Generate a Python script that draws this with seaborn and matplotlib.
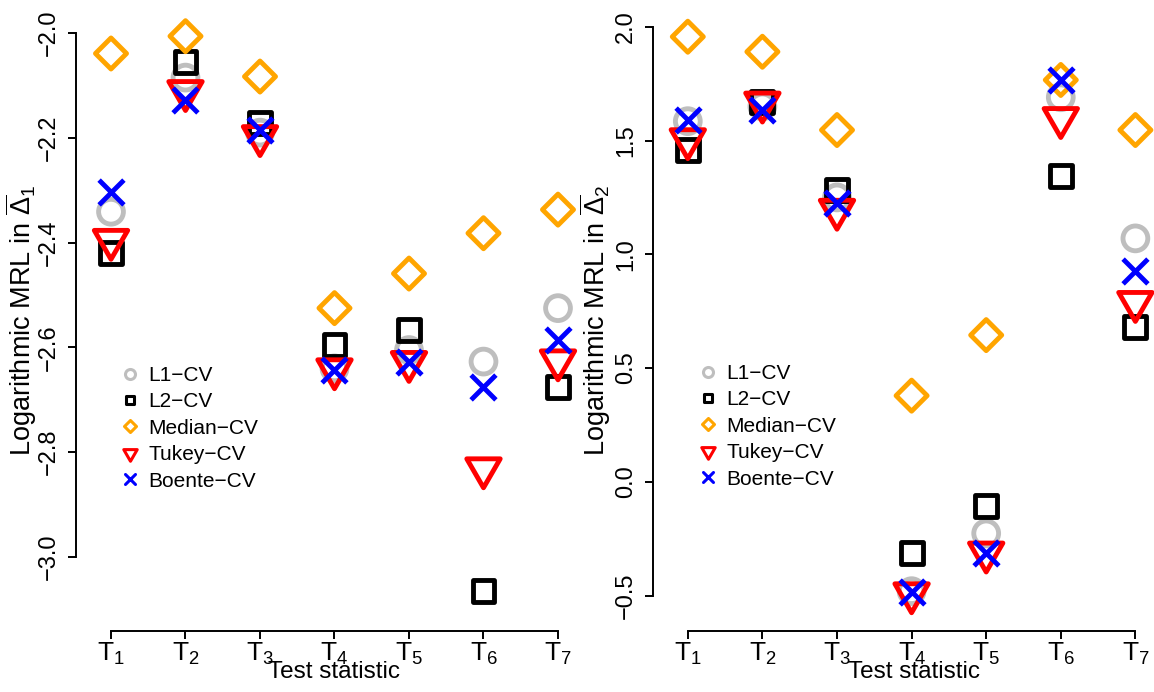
import numpy as np
import pandas as pd
import matplotlib
matplotlib.use("Agg")
import matplotlib.pyplot as plt
import seaborn as sns
from matplotlib.markers import MarkerStyle
from matplotlib.path import Path
from matplotlib.lines import Line2D

# ---------------- data ----------------
tests = ["T1", "T2", "T3", "T4", "T5", "T6", "T7"]
tick_labels = [r"$\mathregular{T_1}$", r"$\mathregular{T_2}$", r"$\mathregular{T_3}$",
               r"$\mathregular{T_4}$", r"$\mathregular{T_5}$", r"$\mathregular{T_6}$",
               r"$\mathregular{T_7}$"]
methods = ["L1\u2212CV", "L2\u2212CV", "Median\u2212CV", "Tukey\u2212CV", "Boente\u2212CV"]
colors = ["#BEBEBE", "#000000", "#FFA500", "#FF0000", "#0000FF"]

# panel 1: Logarithmic MRL in Delta_1
d1_L1 = [-2.341, -2.085, -2.190, -2.640, -2.605, -2.627, -2.525]
d1_L2 = [-2.420, -2.055, -2.172, -2.595, -2.567, -3.065, -2.675]
d1_Median = [-2.039, -2.006, -2.083, -2.525, -2.459, -2.382, -2.337]
d1_Tukey = [-2.395, -2.111, -2.197, -2.642, -2.628, -2.831, -2.625]
d1_Boente = [-2.303, -2.128, -2.185, -2.643, -2.627, -2.675, -2.586]
d1_yticks = [-3.0, -2.8, -2.6, -2.4, -2.2, -2.0]

# panel 2: Logarithmic MRL in Delta_2
d2_L1 = [1.585, 1.650, 1.250, -0.480, -0.226, 1.690, 1.070]
d2_L2 = [1.458, 1.670, 1.283, -0.311, -0.106, 1.344, 0.682]
d2_Median = [1.956, 1.890, 1.546, 0.379, 0.645, 1.766, 1.546]
d2_Tukey = [1.505, 1.666, 1.195, -0.490, -0.311, 1.598, 0.790]
d2_Boente = [1.590, 1.634, 1.225, -0.485, -0.314, 1.766, 0.928]
d2_yticks = [-0.5, 0.0, 0.5, 1.0, 1.5, 2.0]

# ---------------- style ----------------
sns.set_style("ticks")
plt.rcParams["font.family"] = ["Liberation Sans", "DejaVu Sans"]
plt.rcParams["mathtext.fontset"] = "custom"
plt.rcParams["mathtext.rm"] = "Liberation Sans"
plt.rcParams["mathtext.it"] = "Liberation Sans:italic"
plt.rcParams["mathtext.bf"] = "Liberation Sans:bold"
plt.rcParams["mathtext.default"] = "regular"
for key in ("text.color", "axes.labelcolor", "xtick.color", "ytick.color",
            "xtick.labelcolor", "ytick.labelcolor", "axes.edgecolor"):
    plt.rcParams[key] = "black"

# R-like symbols (pch 1, 0, 5, 6, 4)
tri_path = Path([(0, -1.5551), (1.3468, 0.7776), (-1.3468, 0.7776), (0, -1.5551)],
                [Path.MOVETO, Path.LINETO, Path.LINETO, Path.CLOSEPOLY])
markers = [MarkerStyle("o", joinstyle="round"),
           MarkerStyle("s", joinstyle="round"),
           MarkerStyle("D", joinstyle="round"),
           MarkerStyle(tri_path, joinstyle="round"),
           MarkerStyle("x", capstyle="round")]
r_pt = 8.93  # symbol radius in points
msizes = [2 * r_pt, 2 * 0.886 * r_pt, 2 * 1.2533 * r_pt / np.sqrt(2), 3.11 * r_pt, 2 * r_pt]
lw = 3.5
r_leg = 3.6
leg_sizes = [2 * r_leg, 2 * 0.886 * r_leg, 2 * 1.2533 * r_leg / np.sqrt(2), 3.11 * r_leg, 2 * r_leg]

W, H = 1154, 692
fig = plt.figure(figsize=(W / 100, H / 100), dpi=100)


def axes_px(l, r, t, b):
    return fig.add_axes([l / W, 1 - b / H, (r - l) / W, (b - t) / H])


def draw_panel(ax, series, yticks, ylim, xlim, ylabel, ylab_x, leg_anchor):
    pos = np.arange(1, len(tests) + 1)
    frames = []
    for m, vals in zip(methods, series):
        frames.append(pd.DataFrame({"pos": pos, "test": tests, "value": vals, "method": m}))
    df = pd.concat(frames, ignore_index=True)
    for k, (m, c, mk, ms) in enumerate(zip(methods, colors, markers, msizes)):
        sub = df[df["method"] == m]
        if k == 4:
            sns.scatterplot(data=sub, x="pos", y="value", marker=mk, s=ms ** 2,
                            color=c, linewidth=lw, ax=ax, legend=False, zorder=3 + k)
        else:
            sns.scatterplot(data=sub, x="pos", y="value", marker=mk, s=ms ** 2,
                            color=c, facecolor="none", edgecolor=c, linewidth=lw,
                            joinstyle="round", ax=ax, legend=False, zorder=3 + k)
    ax.set_xlim(*xlim)
    ax.set_ylim(*ylim)
    ax.set_xticks(pos)
    ax.set_xticklabels(tick_labels, fontsize=19)
    ax.set_yticks(yticks)
    ax.set_yticklabels([f"{v:.1f}".replace("-", "\u2212") for v in yticks], fontsize=17)
    for t in ax.get_yticklabels():
        t.set_rotation(90)
        t.set_va("center")
        t.set_ha("right")
    sns.despine(ax=ax)
    ax.spines["left"].set_bounds(yticks[0], yticks[-1])
    ax.spines["bottom"].set_bounds(pos[0], pos[-1])
    for s in ("left", "bottom"):
        ax.spines[s].set_linewidth(1.4)
        ax.spines[s].set_color("black")
    ax.tick_params(axis="both", length=5.5, width=1.4, color="black")
    ax.tick_params(axis="x", pad=1.5)
    ax.tick_params(axis="y", pad=6)
    ax.set_xlabel("Test statistic", fontsize=17.5)
    ax.xaxis.set_label_coords(0.5, -30 / 621)
    ax.set_ylabel(ylabel, fontsize=19.5)
    ax.yaxis.set_label_coords(ylab_x, 0.5)
    handles = [Line2D([], [], linestyle="none", marker=mk, markersize=ms,
                      markerfacecolor="none", markeredgecolor=c, color=c,
                      markeredgewidth=2.2)
               for mk, ms, c in zip(markers, leg_sizes, colors)]
    ax.legend(handles, methods, loc="upper left", bbox_to_anchor=leg_anchor,
              bbox_transform=fig.transFigure, frameon=False, fontsize=15,
              handlelength=0.75, handletextpad=0.5, labelspacing=0.355,
              borderpad=0, borderaxespad=0)


ax1 = axes_px(76, 592, 10, 631)
draw_panel(ax1, [d1_L1, d1_L2, d1_Median, d1_Tukey, d1_Boente], d1_yticks,
           (-3.1412, -1.956), (0.5302, 7.4564),
           r"Logarithmic MRL in $\overline{\Delta}_1$", (39 - 76) / 516,
           (122.2 / W, 1 - 366 / H))

ax2 = axes_px(652.8, 1175, 10, 631)
draw_panel(ax2, [d2_L1, d2_L2, d2_Median, d2_Tukey, d2_Boente], d2_yticks,
           (-0.655, 2.0734), (0.5308, 7.531),
           r"Logarithmic MRL in $\overline{\Delta}_2$", (613 - 652.8) / 522.2,
           (700.2 / W, 1 - 364 / H))

fig.savefig("out.png", dpi=100)
